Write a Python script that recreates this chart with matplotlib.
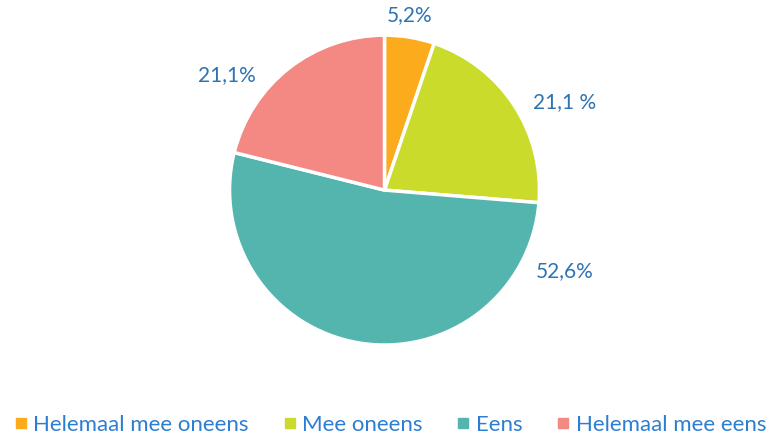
import matplotlib.pyplot as plt
from matplotlib.lines import Line2D

categories = ["Helemaal mee oneens", "Mee oneens", "Eens", "Helemaal mee eens"]
values = [5.2, 21.1, 52.6, 21.1]
value_labels = ["5,2%", "21,1 %", "52,6%", "21,1%"]
colors = ["#fcab1c", "#cadb2b", "#53b5ae", "#f48883"]

# label placement (radius units), as in the original layout
label_pos = [(0.16, 1.13), (1.16, 0.57), (1.16, -0.52), (-1.02, 0.74)]

plt.rcParams["font.family"] = ["Lato", "DejaVu Sans"]

fig = plt.figure(figsize=(7.69, 4.34), dpi=100)
ax = fig.add_axes([0.2985, 0.2050, 0.4030, 0.7140])
ax.pie(values, colors=colors, startangle=90, counterclock=False,
       wedgeprops=dict(edgecolor="white", linewidth=2.5), radius=1.0)
ax.set_xlim(-1, 1)
ax.set_ylim(-1, 1)
ax.set_aspect("equal")
ax.axis("off")

for txt, (x, y) in zip(value_labels, label_pos):
    ax.text(x, y, txt, ha="center", va="center", fontsize=15, color="#2e73b2", clip_on=False)

handles = [Line2D([], [], marker="s", linestyle="none", markersize=7,
                  markerfacecolor=c, markeredgecolor=c) for c in colors]
leg = fig.legend(handles, categories, loc="center", bbox_to_anchor=(0.508, 0.021),
                 ncol=4, frameon=False, fontsize=16, handletextpad=0.3,
                 columnspacing=1.6, handlelength=0.5, borderpad=0.1)
for t in leg.get_texts():
    t.set_color("#2c7ed2")

fig.savefig("out.png", dpi=100, facecolor="white")
